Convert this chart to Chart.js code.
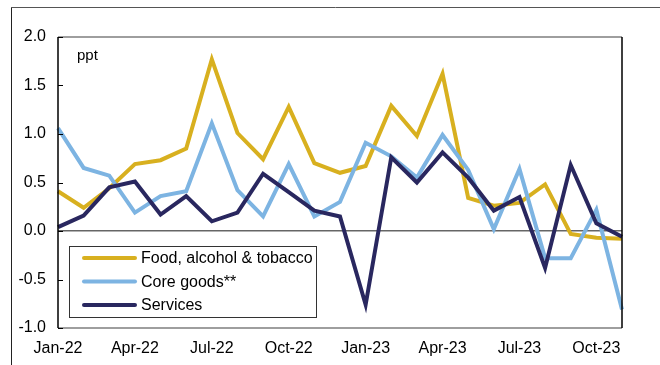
<!DOCTYPE html>
<html>
<head>
<meta charset="utf-8">
<script src="https://cdn.jsdelivr.net/npm/chart.js@4"></script>
<style>
  html, body { margin: 0; padding: 0; background: #fff; }
  #wrap { width: 660px; height: 365px; }
</style>
</head>
<body>
<div id="wrap"><canvas id="dataChart" width="660" height="365"></canvas></div>
<script>
// Months Jan-22 .. Nov-23
const months = ['Jan-22','Feb-22','Mar-22','Apr-22','May-22','Jun-22','Jul-22','Aug-22','Sep-22','Oct-22','Nov-22','Dec-22',
                'Jan-23','Feb-23','Mar-23','Apr-23','May-23','Jun-23','Jul-23','Aug-23','Sep-23','Oct-23','Nov-23'];

const foodValues = [0.41, 0.24, 0.44, 0.69, 0.73, 0.85, 1.77, 1.01, 0.74, 1.28, 0.70, 0.60,
                    0.67, 1.29, 0.98, 1.62, 0.34, 0.26, 0.29, 0.48, -0.03, -0.07, -0.08];
const coreGoodsValues = [1.06, 0.65, 0.57, 0.19, 0.36, 0.41, 1.11, 0.42, 0.15, 0.69, 0.15, 0.30,
                         0.91, 0.77, 0.55, 0.99, 0.63, 0.02, 0.64, -0.28, -0.28, 0.22, -0.81];
const servicesValues = [0.04, 0.16, 0.45, 0.51, 0.17, 0.36, 0.10, 0.19, 0.59, 0.40, 0.21, 0.15,
                        -0.76, 0.76, 0.50, 0.81, 0.55, 0.21, 0.35, -0.38, 0.68, 0.08, -0.06];

const seriesNames = ['Food, alcohol & tobacco', 'Core goods**', 'Services'];
const seriesColors = ['#D8B01F', '#7DB4E2', '#29275F'];

const yTicks = [-1.0, -0.5, 0.0, 0.5, 1.0, 1.5, 2.0];

const FONT = '"Liberation Sans", Arial, sans-serif';

// frame, inside ticks, "ppt" label and boxed legend
const decorPlugin = {
    id: 'decor',
    afterDatasetsDraw(chart) {
        const ctx = chart.ctx;
        const a = chart.chartArea;
        const y = chart.scales.y;

        ctx.save();
        // outer frame (left + top)
        ctx.strokeStyle = '#222';
        ctx.lineWidth = 1;
        ctx.beginPath();
        ctx.moveTo(11.5, 365);
        ctx.lineTo(11.5, 7.5);
        ctx.stroke();
        ctx.strokeStyle = '#555';
        ctx.beginPath();
        ctx.moveTo(11, 7.5);
        ctx.lineTo(660, 7.5);
        ctx.stroke();

        // plot border
        ctx.strokeStyle = '#7f7f7f';
        ctx.lineWidth = 1.5;
        ctx.beginPath();
        ctx.moveTo(a.left, a.top);
        ctx.lineTo(a.right, a.top);
        ctx.moveTo(a.left, a.bottom);
        ctx.lineTo(a.right, a.bottom);
        ctx.stroke();
        ctx.strokeStyle = '#000';
        ctx.beginPath();
        ctx.moveTo(a.left, a.top);
        ctx.lineTo(a.left, a.bottom);
        ctx.moveTo(a.right, a.top);
        ctx.lineTo(a.right, a.bottom);
        ctx.stroke();

        // inside ticks on y axis
        ctx.lineWidth = 1;
        yTicks.forEach(v => {
            const py = Math.round(y.getPixelForValue(v)) + 0.5;
            ctx.beginPath();
            ctx.moveTo(a.left, py);
            ctx.lineTo(a.left + 5, py);
            ctx.stroke();
        });

        // ppt
        ctx.fillStyle = '#000';
        ctx.font = '15px ' + FONT;
        ctx.textBaseline = 'middle';
        ctx.textAlign = 'left';
        ctx.fillText('ppt', a.left + 19, a.top + 19);

        // legend box
        const bx = a.left + 11, bw = 247, bh = 71;
        const by = a.bottom - 11 - bh;
        ctx.fillStyle = '#fff';
        ctx.fillRect(bx, by, bw, bh);
        ctx.strokeStyle = '#333';
        ctx.strokeRect(bx + 0.5, by + 0.5, bw, bh);
        ctx.font = '16px ' + FONT;
        seriesNames.forEach((name, i) => {
            const ry = by + 12 + i * 23.5;
            ctx.strokeStyle = seriesColors[i];
            ctx.lineWidth = 4;
            ctx.lineCap = 'round';
            ctx.beginPath();
            ctx.moveTo(bx + 15, ry);
            ctx.lineTo(bx + 66, ry);
            ctx.stroke();
            ctx.fillStyle = '#000';
            ctx.fillText(name, bx + 72, ry + 1);
        });
        ctx.restore();
    }
};

const valueSets = [foodValues, coreGoodsValues, servicesValues];

new Chart(document.getElementById('dataChart'), {
    type: 'line',
    data: {
        labels: months,
        datasets: valueSets.map((vals, i) => ({
            label: seriesNames[i],
            data: vals,
            borderColor: seriesColors[i],
            backgroundColor: seriesColors[i],
            borderWidth: 4,
            pointRadius: 0,
            tension: 0,
            borderJoinStyle: 'miter',
            order: 2 - i   // services drawn on top
        }))
    },
    options: {
        responsive: false,
        animation: false,
        layout: { padding: { top: 37, right: 38, left: 0, bottom: 0 } },
        plugins: {
            legend: { display: false },
            tooltip: { enabled: false }
        },
        scales: {
            x: {
                offset: false,
                grid: { display: false, drawTicks: false },
                border: { display: false },
                ticks: {
                    autoSkip: false,
                    maxRotation: 0,
                    padding: 11,
                    color: '#000',
                    font: { family: FONT, size: 16 },
                    callback: (v, i) => (i % 3 === 0 ? months[i] : '')
                },
                afterFit: s => { s.height = 37; }
            },
            y: {
                min: -1,
                max: 2,
                grid: {
                    drawTicks: false,
                    lineWidth: 1.5,
                    color: c => (c.tick && c.tick.value === 0 ? '#666' : 'rgba(0,0,0,0)')
                },
                border: { display: false },
                ticks: {
                    stepSize: 0.5,
                    padding: 12,
                    color: '#000',
                    font: { family: FONT, size: 16 },
                    callback: v => v.toFixed(1)
                },
                afterFit: s => { s.width = 58; }
            }
        }
    },
    plugins: [decorPlugin]
});
</script>
</body>
</html>
